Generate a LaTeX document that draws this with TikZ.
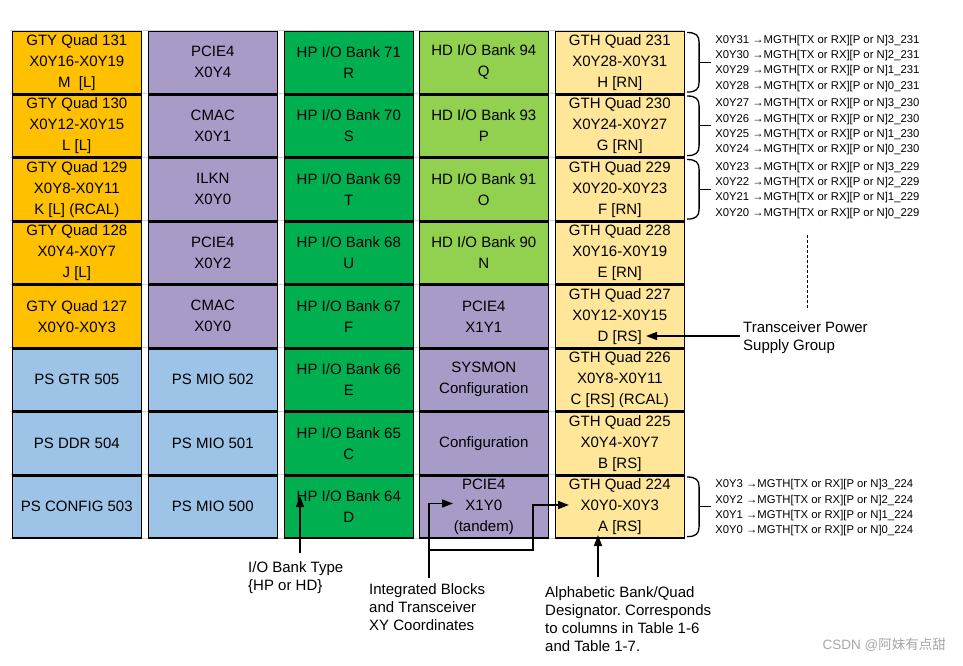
\documentclass[tikz,border=0pt]{standalone}
\usepackage{fontspec}
\setmainfont{Liberation Sans}
\newfontfamily\cjkfont{Noto Sans CJK SC}
\usetikzlibrary{arrows.meta,calc}
\frenchspacing
\definecolor{gty}{HTML}{FFC000}
\definecolor{pur}{HTML}{A99BC8}
\definecolor{hpg}{HTML}{00B050}
\definecolor{hdg}{HTML}{92D050}
\definecolor{gth}{HTML}{FFE699}
\definecolor{psb}{HTML}{9DC3E6}
\tikzset{
  cell/.style={draw=black, line width=1.6pt, minimum width=129pt, minimum height=62pt,
    anchor=north west, align=center, inner sep=0pt, font=\fontsize{15}{21}\selectfont},
  annot/.style={anchor=west, align=left, inner sep=0pt, font=\fontsize{11.3}{15.3}\selectfont},
  lbl/.style={anchor=north west, align=left, inner sep=0pt, font=\fontsize{15}{18}\selectfont},
  brc/.style={line width=1.3pt},
  arr/.style={line width=1.5pt, -{Triangle[length=11pt,width=8pt]}},
  grid/.style={draw=gray!35, line width=1pt}
}
\newcommand{\qbrace}[1]{%
  \draw[brc] ($(#1.north east)+(2,2)$) .. controls +(9,0) and +(0,-7) .. ($(#1.north east)+(14,12)$)
     -- ($(#1.south east)+(14,-12)$) .. controls +(0,7) and +(9,0) .. ($(#1.south east)+(2,-2)$);
  \draw[brc] ($(#1.east)+(14,0)$) -- ++(12,0);}
\begin{document}
\begin{tikzpicture}[x=1pt,y=-1pt]
\useasboundingbox (0,0) rectangle (963,665);
% faint grid behind
\foreach \yy in {30,93.5,157,220.5,284,347.5,411,474.5,538} {\draw[grid] (10,\yy) -- (685,\yy);}
% column 1
\node[cell,fill=gty] (c1r1) at (11.5,30.5) {GTY Quad 131\\X0Y16-X0Y19\\M\ \ [L]};
\node[cell,fill=gty] (c1r2) at (11.5,94) {GTY Quad 130\\X0Y12-X0Y15\\L [L]};
\node[cell,fill=gty] (c1r3) at (11.5,157.5) {GTY Quad 129\\X0Y8-X0Y11\\K [L] (RCAL)};
\node[cell,fill=gty] (c1r4) at (11.5,221) {GTY Quad 128\\X0Y4-X0Y7\\J [L]};
\node[cell,fill=gty] (c1r5) at (11.5,284.5) {GTY Quad 127\\X0Y0-X0Y3};
\node[cell,fill=psb] (c1r6) at (11.5,348) {PS GTR 505};
\node[cell,fill=psb] (c1r7) at (11.5,411.5) {PS DDR 504};
\node[cell,fill=psb] (c1r8) at (11.5,475) {PS CONFIG 503};
% column 2
\node[cell,fill=pur] (c2r1) at (147.5,30.5) {PCIE4\\X0Y4};
\node[cell,fill=pur] (c2r2) at (147.5,94) {CMAC\\X0Y1};
\node[cell,fill=pur] (c2r3) at (147.5,157.5) {ILKN\\X0Y0};
\node[cell,fill=pur] (c2r4) at (147.5,221) {PCIE4\\X0Y2};
\node[cell,fill=pur] (c2r5) at (147.5,284.5) {CMAC\\X0Y0};
\node[cell,fill=psb] (c2r6) at (147.5,348) {PS MIO 502};
\node[cell,fill=psb] (c2r7) at (147.5,411.5) {PS MIO 501};
\node[cell,fill=psb] (c2r8) at (147.5,475) {PS MIO 500};
% column 3
\node[cell,fill=hpg] (c3r1) at (283.5,30.5) {HP I/O Bank 71\\R};
\node[cell,fill=hpg] (c3r2) at (283.5,94) {HP I/O Bank 70\\S};
\node[cell,fill=hpg] (c3r3) at (283.5,157.5) {HP I/O Bank 69\\T};
\node[cell,fill=hpg] (c3r4) at (283.5,221) {HP I/O Bank 68\\U};
\node[cell,fill=hpg] (c3r5) at (283.5,284.5) {HP I/O Bank 67\\F};
\node[cell,fill=hpg] (c3r6) at (283.5,348) {HP I/O Bank 66\\E};
\node[cell,fill=hpg] (c3r7) at (283.5,411.5) {HP I/O Bank 65\\C};
\node[cell,fill=hpg] (c3r8) at (283.5,475) {HP I/O Bank 64\\D};
% column 4
\node[cell,fill=hdg] (c4r1) at (418.5,30.5) {HD I/O Bank 94\\Q};
\node[cell,fill=hdg] (c4r2) at (418.5,94) {HD I/O Bank 93\\P};
\node[cell,fill=hdg] (c4r3) at (418.5,157.5) {HD I/O Bank 91\\O};
\node[cell,fill=hdg] (c4r4) at (418.5,221) {HD I/O Bank 90\\N};
\node[cell,fill=pur] (c4r5) at (418.5,284.5) {PCIE4\\X1Y1};
\node[cell,fill=pur] (c4r6) at (418.5,348) {SYSMON\\Configuration};
\node[cell,fill=pur] (c4r7) at (418.5,411.5) {Configuration};
\node[cell,fill=pur] (c4r8) at (418.5,475) {PCIE4\\X1Y0\\(tandem)};
% column 5
\node[cell,fill=gth] (c5r1) at (554.5,30.5) {GTH Quad 231\\X0Y28-X0Y31\\H [RN]};
\node[cell,fill=gth] (c5r2) at (554.5,94) {GTH Quad 230\\X0Y24-X0Y27\\G [RN]};
\node[cell,fill=gth] (c5r3) at (554.5,157.5) {GTH Quad 229\\X0Y20-X0Y23\\F [RN]};
\node[cell,fill=gth] (c5r4) at (554.5,221) {GTH Quad 228\\X0Y16-X0Y19\\E [RN]};
\node[cell,fill=gth] (c5r5) at (554.5,284.5) {GTH Quad 227\\X0Y12-X0Y15\\D [RS]};
\node[cell,fill=gth] (c5r6) at (554.5,348) {GTH Quad 226\\X0Y8-X0Y11\\C [RS] (RCAL)};
\node[cell,fill=gth] (c5r7) at (554.5,411.5) {GTH Quad 225\\X0Y4-X0Y7\\B [RS]};
\node[cell,fill=gth] (c5r8) at (554.5,475) {GTH Quad 224\\X0Y0-X0Y3\\A [RS]};
% braces and pin names
\qbrace{c5r1}\qbrace{c5r2}\qbrace{c5r3}\qbrace{c5r8}
\node[annot] (p231) at ($(c5r1.east)+(30,1)$) {X0Y31 →MGTH[TX or RX][P or N]3\_231\\X0Y30 →MGTH[TX or RX][P or N]2\_231\\X0Y29 →MGTH[TX or RX][P or N]1\_231\\X0Y28 →MGTH[TX or RX][P or N]0\_231};
\node[annot] (p230) at ($(c5r2.east)+(30,1)$) {X0Y27 →MGTH[TX or RX][P or N]3\_230\\X0Y26 →MGTH[TX or RX][P or N]2\_230\\X0Y25 →MGTH[TX or RX][P or N]1\_230\\X0Y24 →MGTH[TX or RX][P or N]0\_230};
\node[annot] (p229) at ($(c5r3.east)+(30,1)$) {X0Y23 →MGTH[TX or RX][P or N]3\_229\\X0Y22 →MGTH[TX or RX][P or N]2\_229\\X0Y21 →MGTH[TX or RX][P or N]1\_229\\X0Y20 →MGTH[TX or RX][P or N]0\_229};
\node[annot] (p224) at ($(c5r8.east)+(30,1)$) {X0Y3 →MGTH[TX or RX][P or N]3\_224\\X0Y2 →MGTH[TX or RX][P or N]2\_224\\X0Y1 →MGTH[TX or RX][P or N]1\_224\\X0Y0 →MGTH[TX or RX][P or N]0\_224};
% dashed continuation
\coordinate (dtop) at (807,235);
\coordinate (dbot) at (807,310);
\draw[dashed, line width=0.8pt, dash pattern=on 3pt off 2pt] (dtop) -- (dbot);
% Transceiver power
\node[lbl, anchor=west] (tp) at (743,337.5) {Transceiver Power\\Supply Group};
\coordinate (tptip) at (646,336);
\draw[arr] ($(tp.west)+(-3,-1.5)$) -- (tptip);
% I/O bank type
\node[lbl] (iobt) at (248,561) {I/O Bank Type\\\{HP or HD\}};
\coordinate (iotail) at (300,553);
\coordinate (iotip) at (300,496);
\draw[arr] (iotail) -- (iotip);
% Integrated blocks
\node[lbl] (ib) at (369,583) {Integrated Blocks\\and Transceiver\\XY Coordinates};
\coordinate (ibtail) at (429,578);
\coordinate (ibtip1) at (453,503.5);
\coordinate (ibj) at (533,550);
\coordinate (ibtip2) at (569,505);
\draw[arr] (ibtail) -- (ibtail |- ibtip1) -- (ibtip1);
\draw[arr] (ibtail |- ibj) -- (ibj) -- (ibj |- ibtip2) -- (ibtip2);
% Alphabetic designator
\node[lbl] (ad) at (545,586) {Alphabetic Bank/Quad\\Designator. Corresponds\\to columns in Table 1-6\\and Table 1-7.};
\coordinate (adtail) at (598,577);
\coordinate (adtip) at (598,535);
\draw[arr] (adtail) -- (adtip);
% watermark
\node[anchor=east, inner sep=0pt, text=gray!70, font=\fontsize{13.5}{16}\selectfont] (wm) at (946,645) {CSDN @\cjkfont 阿妹有点甜};
\end{tikzpicture}
\end{document}
